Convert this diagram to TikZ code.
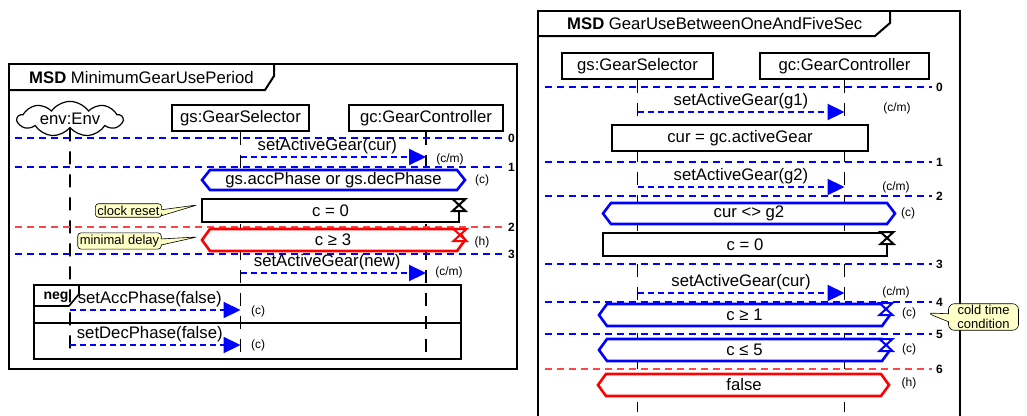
\documentclass[tikz,border=0pt]{standalone}
\usepackage{fontspec}
\setmainfont{Liberation Sans}
\usetikzlibrary{shapes.symbols,shapes.callouts,arrows.meta}
\definecolor{msdblue}{RGB}{0,0,255}
\definecolor{msdred}{RGB}{255,0,0}
\definecolor{cutredc}{RGB}{255,70,70}
\definecolor{notefill}{RGB}{255,255,200}
\tikzset{
  txt/.style={font=\fontsize{16.7}{19}\selectfont, inner sep=0pt},
  frame/.style={line width=2pt, black, line join=miter},
  headbox/.style={draw, line width=1.6pt, fill=white, minimum height=26pt, txt},
  assignbox/.style={draw, line width=2pt, fill=white, txt},
  lifeline/.style={line width=1.6pt, black, dash pattern=on 13pt off 10pt},
  cutblue/.style={line width=2.2pt, msdblue, dash pattern=on 7pt off 5pt},
  cutred/.style={line width=2.2pt, cutredc, dash pattern=on 7pt off 5pt},
  cutlabel/.style={font=\bfseries\fontsize{12}{14}\selectfont, anchor=west, inner sep=0pt, xshift=3pt, black},
  msg/.style={line width=2.2pt, msdblue, dash pattern=on 6pt off 4pt, -{Triangle[length=17pt,width=16pt]}},
  msglabel/.style={txt, above, inner sep=2pt, black},
  small/.style={font=\fontsize{12}{14}\selectfont, inner sep=0pt},
  note/.style={rectangle callout, draw, line width=0.6pt, fill=notefill, rounded corners=3pt,
    font=\fontsize{13}{14}\selectfont, inner sep=2pt, callout pointer width=6pt, align=center},
  fragline/.style={line width=1.6pt, black, line join=miter},
}
\newcommand\condhex[5]{%
  \draw[line width=2.6pt,#5,fill=white,line join=miter] ({#1},{(#3+#4)/2}) -- ({#1+8},#3) -- ({#2-8},#3) -- ({#2},{(#3+#4)/2}) -- ({#2-8},#4) -- ({#1+8},#4) -- cycle;}
\newcommand\hglass[3]{%
  \draw[line width=2pt,#3,fill=white,line join=miter] ({#1-6.5},#2) -- ({#1+6.5},#2) -- ({#1-6.5},{#2+12}) -- ({#1+6.5},{#2+12}) -- cycle;}
\begin{document}
\begin{tikzpicture}[x=1pt,y=-1pt]
\useasboundingbox[fill=white] (0,0) rectangle (1027,415);

% ================= LEFT MSD =================
\draw[frame] (9,64) rectangle (517,369);
\draw[frame] (9,90) -- (265,90) -- (274,76) -- (274,64);
\node[txt, anchor=base west] (title1) at (29,83) {\textbf{MSD} MinimumGearUsePeriod};

\node[cloud, cloud puffs=9, cloud puff arc=110, aspect=4, draw, line width=1.2pt, fill=white, txt,
      minimum width=105pt, minimum height=28pt] (env) at (70,119) {env:Env};
\node[headbox, minimum width=137pt] (gs1) at (240.5,118) {gs:GearSelector};
\node[headbox, minimum width=154pt] (gc1) at (426,118) {gc:GearController};

\coordinate (envE) at (70,352);
\coordinate (gs1E) at (240.5,352);
\coordinate (gc1E) at (426,352);
\draw[lifeline] (env.south) -- (envE);
\draw[lifeline] (gs1.south) -- (gs1E);
\draw[lifeline] (gc1.south) -- (gc1E);

\coordinate (L0a) at (15,138); \coordinate (L0b) at (504,138);
\coordinate (L1a) at (15,167); \coordinate (L1b) at (504,167);
\coordinate (L2a) at (15,227); \coordinate (L2b) at (504,227);
\coordinate (L3a) at (15,254); \coordinate (L3b) at (504,254);
\draw[cutblue] (L0a) -- (L0b) node[cutlabel] (L0) {0};
\draw[cutblue] (L1a) -- (L1b) node[cutlabel] (L1) {1};
\draw[cutred]  (L2a) -- (L2b) node[cutlabel] (L2) {2};
\draw[cutblue] (L3a) -- (L3b) node[cutlabel] (L3) {3};

\coordinate (m1s) at (240.5,157); \coordinate (m1t) at (426,157);
\draw[msg] (m1s) -- node[msglabel, xshift=-6pt] (m1l) {setActiveGear(cur)} (m1t);
\node[small] (m1k) at (450,159) {(c/m)};

\condhex{202}{465}{170}{190}{msdblue}
\node[txt] (cond1) at (333.5,180) {gs.accPhase or gs.decPhase};
\node[small] (cond1k) at (482,180) {(c)};

\node[assignbox, minimum width=257pt, minimum height=23pt] (as1) at (330.5,210.5) {c = 0};
\hglass{459}{199}{black}
\node[note, callout absolute pointer={(197,205)}] (n1) at (128.5,210.5) {clock reset};

\condhex{202}{465}{229}{251}{msdred}
\node[txt] (cond2) at (333,240) {c ≥ 3};
\hglass{460}{229}{msdred}
\node[small] (cond2k) at (482,242) {(h)};
\node[note, callout absolute pointer={(197,237)}] (n2) at (119.5,241) {minimal delay};

\coordinate (m2s) at (240.5,273); \coordinate (m2t) at (426,273);
\draw[msg] (m2s) -- node[msglabel, xshift=-6pt] (m2l) {setActiveGear(new)} (m2t);
\node[small] (m2k) at (449,272) {(c/m)};

\draw[fragline] (34,285) rectangle (461,359);
\draw[fragline] (34,323) -- (461,323);
\draw[fragline] (34,306) -- (69,306) -- (79,294) -- (79,285);
\node[font=\bfseries\fontsize{14}{16}\selectfont, inner sep=0pt] (neg) at (56,297) {neg};

\coordinate (m3s) at (70,310); \coordinate (m3t) at (240.5,310);
\draw[msg] (m3s) -- node[msglabel, xshift=-5.5pt] (m3l) {setAccPhase(false)} (m3t);
\node[small] (m3k) at (258,311) {(c)};
\coordinate (m4s) at (70,345); \coordinate (m4t) at (240.5,345);
\draw[msg] (m4s) -- node[msglabel, xshift=-5.5pt] (m4l) {setDecPhase(false)} (m4t);
\node[small] (m4k) at (258,345) {(c)};

% ================= RIGHT MSD =================
\draw[frame] (538,416) -- (538,11) -- (960,11) -- (960,416);
\draw[frame] (538,36) -- (875,36) -- (890,23) -- (890,11);
\node[txt, anchor=base west] (title2) at (567,29.5) {\textbf{MSD} GearUseBetweenOneAndFiveSec};

\node[headbox, minimum width=151pt] (gs2) at (637.5,66) {gs:GearSelector};
\node[headbox, minimum width=169pt] (gc2) at (844.5,66) {gc:GearController};
\coordinate (gs2E) at (637.5,412);
\coordinate (gc2E) at (844.5,412);
\draw[lifeline] (gs2.south) -- (gs2E);
\draw[lifeline] (gc2.south) -- (gc2E);

\coordinate (R0a) at (545,87);  \coordinate (R0b) at (932,87);
\coordinate (R1a) at (545,162); \coordinate (R1b) at (932,162);
\coordinate (R2a) at (545,196); \coordinate (R2b) at (932,196);
\coordinate (R3a) at (545,264); \coordinate (R3b) at (932,264);
\coordinate (R4a) at (545,302); \coordinate (R4b) at (932,302);
\coordinate (R5a) at (545,334); \coordinate (R5b) at (932,334);
\coordinate (R6a) at (545,369); \coordinate (R6b) at (932,369);
\draw[cutblue] (R0a) -- (R0b) node[cutlabel] (R0) {0};
\draw[cutblue] (R1a) -- (R1b) node[cutlabel] (R1) {1};
\draw[cutblue] (R2a) -- (R2b) node[cutlabel] (R2) {2};
\draw[cutblue] (R3a) -- (R3b) node[cutlabel] (R3) {3};
\draw[cutblue] (R4a) -- (R4b) node[cutlabel] (R4) {4};
\draw[cutblue] (R5a) -- (R5b) node[cutlabel] (R5) {5};
\draw[cutred]  (R6a) -- (R6b) node[cutlabel] (R6) {6};

\coordinate (r1s) at (637.5,112); \coordinate (r1t) at (844.5,112);
\draw[msg] (r1s) -- node[msglabel] (r1l) {setActiveGear(g1)} (r1t);
\node[small] (r1k) at (897,108) {(c/m)};

\node[assignbox, minimum width=256pt, minimum height=26pt] (as2) at (740,138) {cur = gc.activeGear};

\coordinate (r2s) at (637.5,187); \coordinate (r2t) at (844.5,187);
\draw[msg] (r2s) -- node[msglabel] (r2l) {setActiveGear(g2)} (r2t);
\node[small] (r2k) at (896,187) {(c/m)};

\condhex{603}{895}{203}{224}{msdblue}
\node[txt] (cond3) at (749,213.5) {cur <> g2};
\node[small] (cond3k) at (908,213) {(c)};

\node[assignbox, minimum width=284pt, minimum height=23pt] (as3) at (745,244.5) {c = 0};
\hglass{887}{232}{black}

\coordinate (r3s) at (637.5,293); \coordinate (r3t) at (844.5,293);
\draw[msg] (r3s) -- node[msglabel] (r3l) {setActiveGear(cur)} (r3t);
\node[small] (r3k) at (896,292) {(c/m)};

\condhex{599}{890}{304}{326}{msdblue}
\node[txt] (cond4) at (744.5,315) {c ≥ 1};
\hglass{886}{303}{msdblue}
\node[small] (cond4k) at (909,313) {(c)};
\node[note, inner xsep=9pt, inner ysep=1.5pt, rounded corners=6pt, callout pointer width=8pt,
      callout absolute pointer={(927,313)}] (n3) at (983.5,317) {cold time\\condition};

\condhex{599}{890}{339}{361}{msdblue}
\node[txt] (cond5) at (744.5,350) {c ≤ 5};
\hglass{886}{339}{msdblue}
\node[small] (cond5k) at (909,349) {(c)};

\condhex{598}{889}{374}{396}{msdred}
\node[txt] (cond6) at (744,385) {false};
\node[small] (cond6k) at (909,383) {(h)};
\end{tikzpicture}
\end{document}
